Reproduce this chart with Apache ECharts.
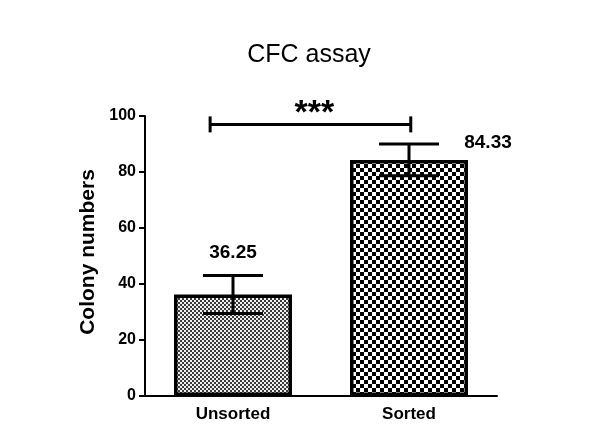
<!DOCTYPE html>
<html>
<head>
<meta charset="utf-8">
<style>
html, body { margin: 0; padding: 0; background: #fff; }
#chart { width: 592px; height: 434px; }
</style>
</head>
<body>
<div id="chart"></div>
<script src="https://cdn.jsdelivr.net/npm/echarts@6/dist/echarts.min.js"></script>
<script>
// values
var categories = ['Unsorted', 'Sorted'];
var means = [36.25, 84.33];
var sds = [6.75, 5.7];
var yTicks = [0, 20, 40, 60, 80, 100];
var sigLevel = 97;
var sigText = '***';

// checker patterns for the bar fills
function checker(cell, dark, light) {
    var c = document.createElement('canvas');
    c.width = cell * 2;
    c.height = cell * 2;
    var ctx = c.getContext('2d');
    ctx.fillStyle = light;
    ctx.fillRect(0, 0, cell * 2, cell * 2);
    ctx.fillStyle = dark;
    ctx.fillRect(0, 0, cell, cell);
    ctx.fillRect(cell, cell, cell, cell);
    return c;
}
var fills = [
    { image: checker(2, '#3a3a3a', '#f0f0f0'), repeat: 'repeat' },
    { image: checker(4, '#000', '#fff'), repeat: 'repeat' }
];

var labelSpots = [
    { position: 'top', distance: 32, offset: [0, 0] },
    { position: 'top', distance: 8, offset: [79, 0] }
];

var barData = means.map(function (v, i) {
    return {
        value: v,
        itemStyle: { color: fills[i] },
        label: labelSpots[i]
    };
});

var errData = means.map(function (v, i) { return [i, v, sds[i]]; });

var chart = echarts.init(document.getElementById('chart'));
var option = {
    animation: false,
    title: {
        text: 'CFC assay',
        left: 304,
        top: 38,
        textAlign: 'center',
        textStyle: { fontFamily: 'Liberation Sans', fontSize: 25, fontWeight: 'normal', color: '#000' }
    },
    grid: { left: 145, right: 95, top: 116, bottom: 38 },
    xAxis: {
        type: 'category',
        data: categories,
        axisLine: { lineStyle: { color: '#000', width: 2 } },
        axisTick: { alignWithLabel: true, length: 6, lineStyle: { color: '#000', width: 2 } },
        axisLabel: { fontFamily: 'Liberation Sans', fontSize: 17, fontWeight: 'bold', color: '#000', margin: 10 }
    },
    yAxis: {
        type: 'value',
        min: yTicks[0],
        max: yTicks[yTicks.length - 1],
        interval: 20,
        name: 'Colony numbers',
        nameLocation: 'middle',
        nameGap: 34,
        nameTextStyle: { fontFamily: 'Liberation Sans', fontSize: 21, fontWeight: 'bold', color: '#000', padding: [0, 0, 0, 8] },
        splitLine: { show: false },
        axisLine: { show: true, lineStyle: { color: '#000', width: 2 } },
        axisTick: { show: true, length: 6, lineStyle: { color: '#000', width: 2 } },
        axisLabel: { fontFamily: 'Liberation Sans', fontSize: 16, fontWeight: 'bold', color: '#000', margin: 9 }
    },
    series: [
        {
            type: 'bar',
            data: barData,
            barWidth: 118,
            itemStyle: { borderColor: '#000', borderWidth: 3.5 },
            label: {
                show: true,
                formatter: function (p) { return p.value.toFixed(2); },
                fontFamily: 'Liberation Sans',
                fontSize: 19,
                fontWeight: 'bold',
                color: '#000'
            },
            z: 2
        },
        {
            type: 'custom',
            data: errData,
            z: 5,
            renderItem: function (params, api) {
                var i = api.value(0);
                var top = api.coord([i, api.value(1) + api.value(2)]);
                var bot = api.coord([i, api.value(1) - api.value(2)]);
                var hw = 30;
                var st = { stroke: '#000', lineWidth: 3 };
                return {
                    type: 'group',
                    children: [
                        { type: 'line', shape: { x1: top[0], y1: top[1], x2: bot[0], y2: bot[1] }, style: st },
                        { type: 'line', shape: { x1: top[0] - hw, y1: top[1], x2: top[0] + hw, y2: top[1] }, style: st },
                        { type: 'line', shape: { x1: bot[0] - hw, y1: bot[1], x2: bot[0] + hw, y2: bot[1] }, style: st }
                    ]
                };
            }
        },
        {
            type: 'custom',
            data: [[0, 1, sigLevel]],
            z: 5,
            renderItem: function (params, api) {
                var bw = api.size([1, 0])[0];
                var a = api.coord([api.value(0), api.value(2)]);
                var b = api.coord([api.value(1), api.value(2)]);
                var x1 = a[0] - 0.13 * bw;
                var x2 = b[0] + 0.01 * bw;
                var y = a[1];
                var st = { stroke: '#000', lineWidth: 3 };
                return {
                    type: 'group',
                    children: [
                        { type: 'line', shape: { x1: x1, y1: y, x2: x2, y2: y }, style: st },
                        { type: 'line', shape: { x1: x1, y1: y - 8, x2: x1, y2: y + 8 }, style: st },
                        { type: 'line', shape: { x1: x2, y1: y - 8, x2: x2, y2: y + 8 }, style: st },
                        {
                            type: 'text',
                            x: (x1 + x2) / 2 + 4,
                            y: y - 28,
                            style: {
                                text: sigText,
                                fontFamily: 'Liberation Sans',
                                fontSize: 34,
                                fontWeight: 'bold',
                                fill: '#000',
                                align: 'center',
                                verticalAlign: 'top'
                            }
                        }
                    ]
                };
            }
        }
    ]
};
chart.setOption(option);
</script>
</body>
</html>
